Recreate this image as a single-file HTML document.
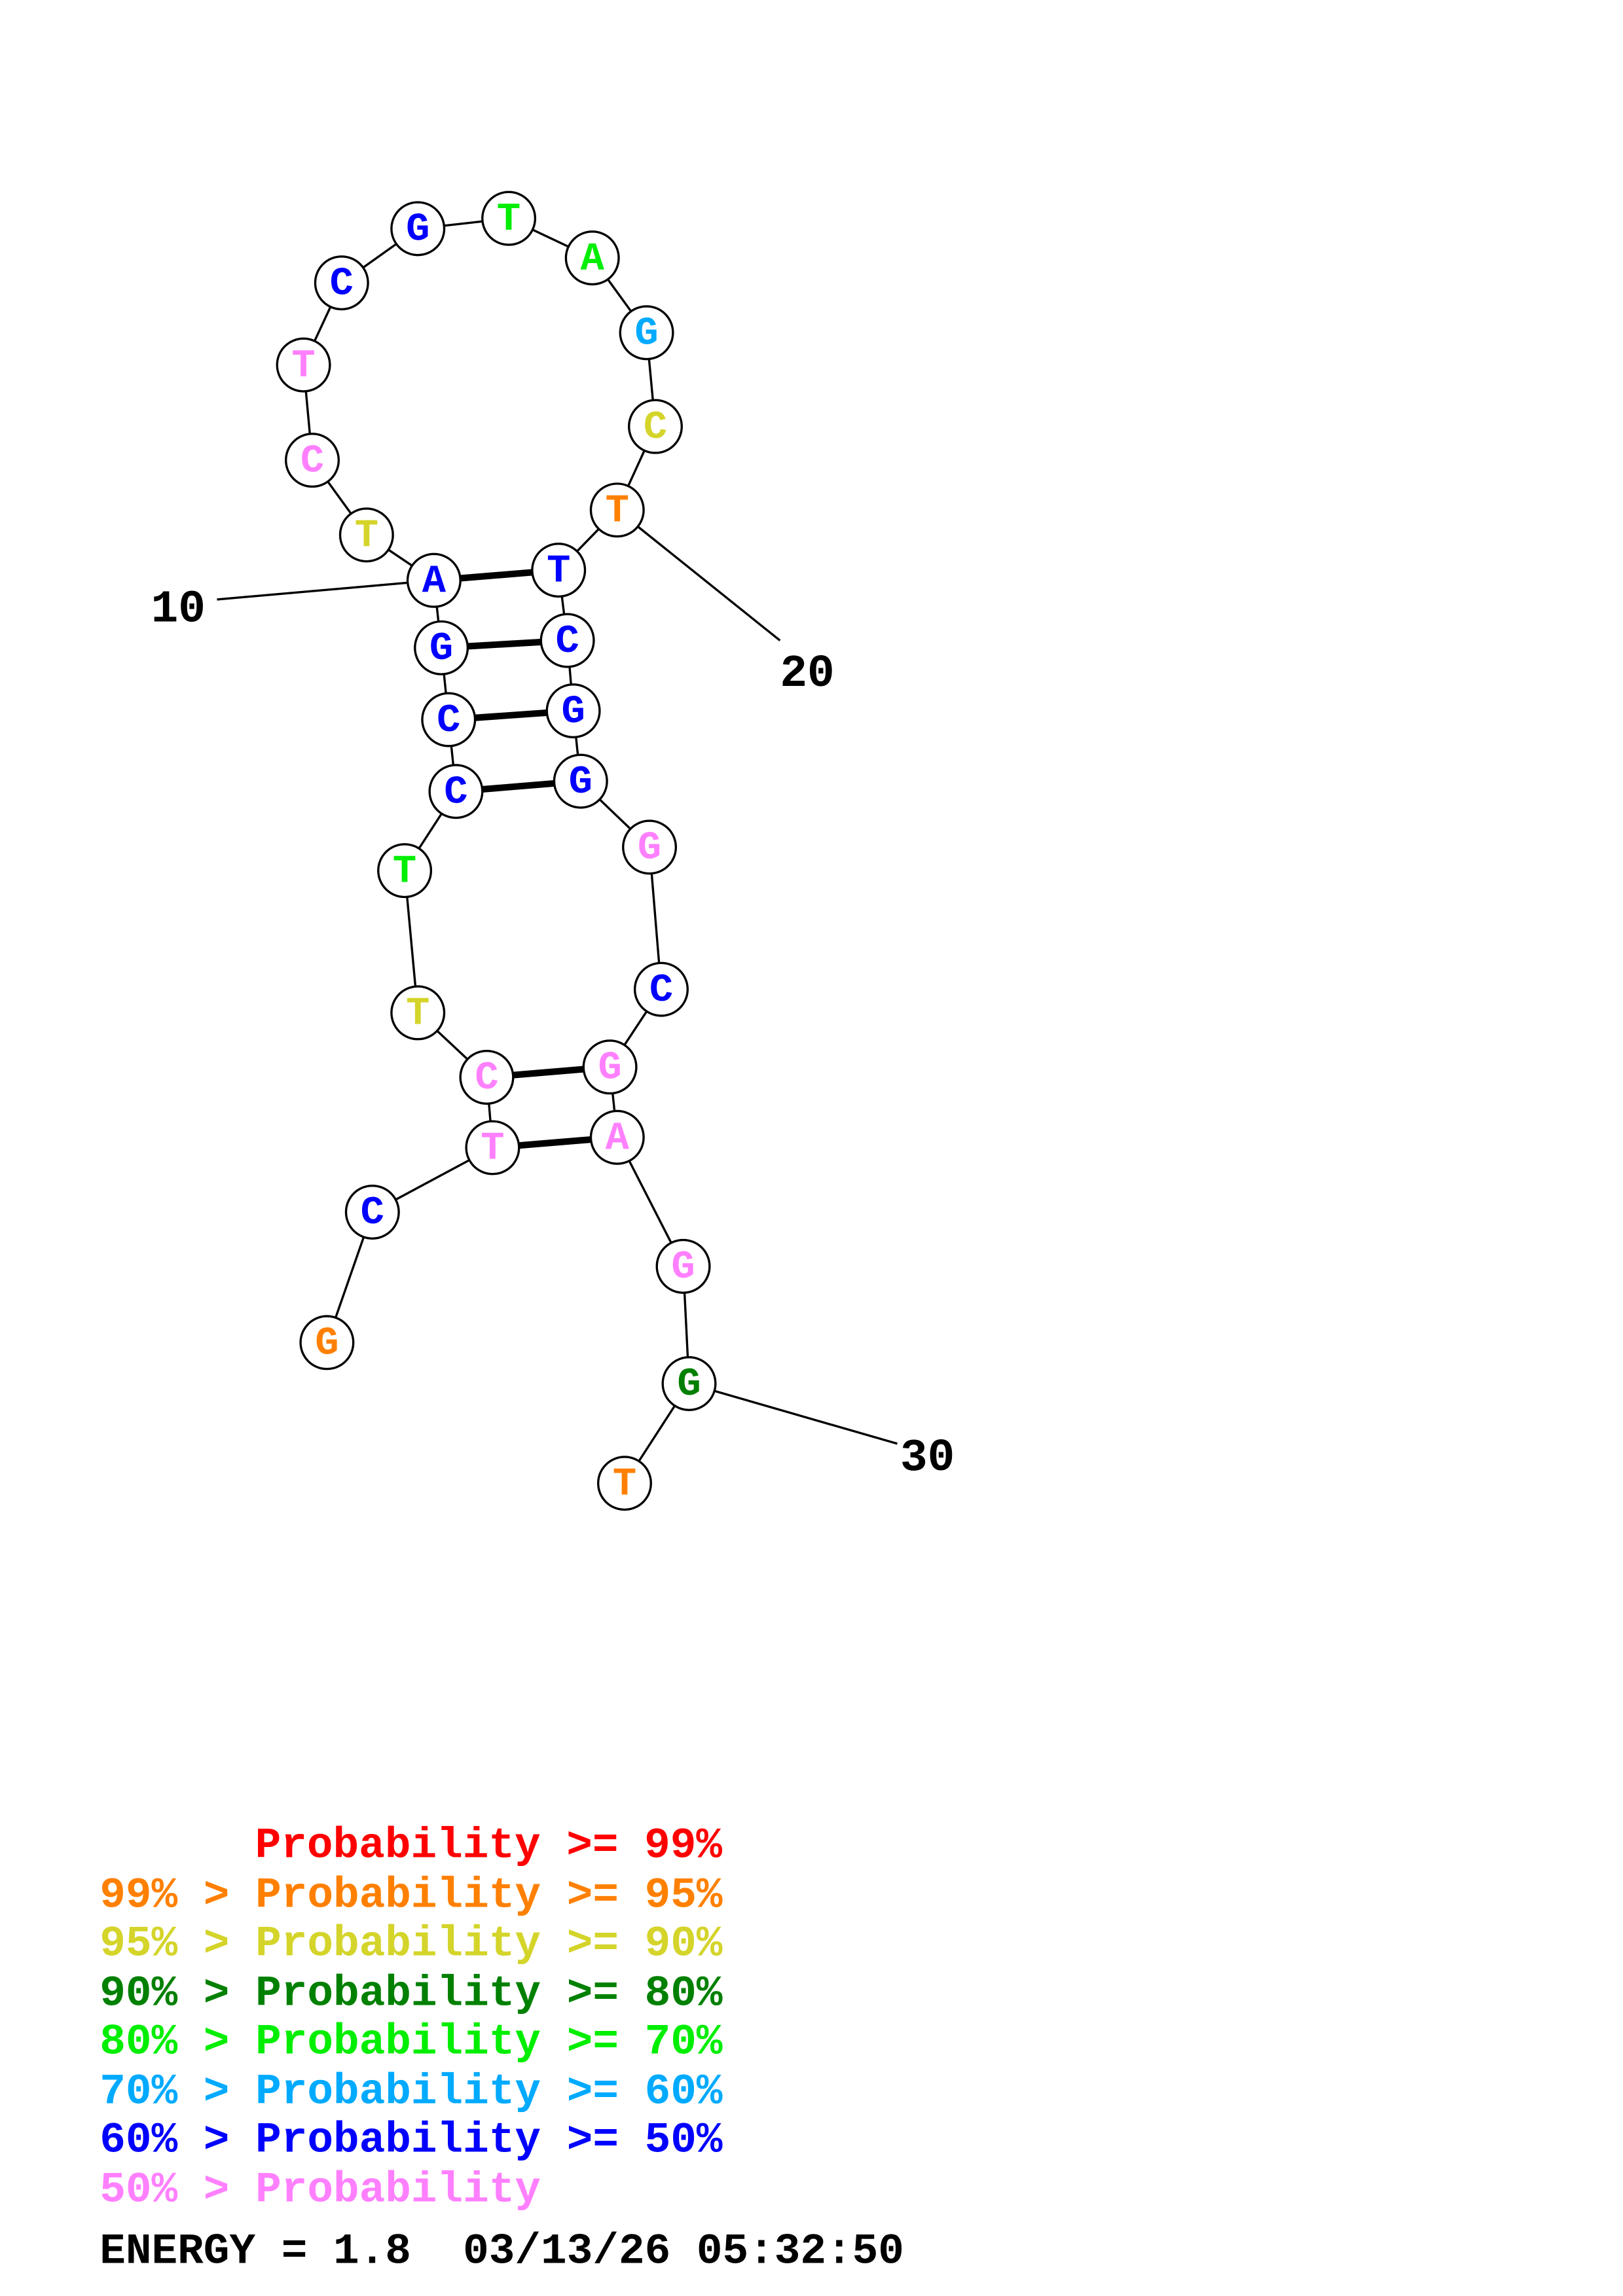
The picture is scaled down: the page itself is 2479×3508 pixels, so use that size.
<!DOCTYPE html>
<html><head><meta charset="utf-8"><style>html,body{margin:0;padding:0;background:#fff}svg{display:block}</style></head>
<body>
<svg width="2479" height="3508" viewBox="0 0 1107 1566.5" xmlns="http://www.w3.org/2000/svg" font-family="'Liberation Mono', monospace" font-weight="bold">
<g stroke="#000" stroke-width="1.5" fill="none">
<polyline points="223,916 254,827 336,783 332,735 285,691 276,594 311,540 306,491 301,442 296,396 250,365 213,314 207,249 233,193 285,156 347,149 404,176 441,227 447,291 421,348 381,389 387,437 391,485 396,533 443,578 451,675 416,728 421,776 466,864 470,944 426,1012"/>
<line x1="148" y1="409" x2="296" y2="396"/>
<line x1="532" y1="437" x2="421" y2="348"/>
<line x1="612" y1="985" x2="470" y2="944"/>
</g>
<g stroke="#000" stroke-width="4.5">
<line x1="296" y1="396" x2="381" y2="389"/>
<line x1="301" y1="442" x2="387" y2="437"/>
<line x1="306" y1="491" x2="391" y2="485"/>
<line x1="311" y1="540" x2="396" y2="533"/>
<line x1="332" y1="735" x2="416" y2="728"/>
<line x1="336" y1="783" x2="421" y2="776"/>
</g>
<g fill="#fff" stroke="#000" stroke-width="1.5">
<circle cx="223" cy="916" r="18"/><circle cx="254" cy="827" r="18"/><circle cx="336" cy="783" r="18"/><circle cx="332" cy="735" r="18"/><circle cx="285" cy="691" r="18"/><circle cx="276" cy="594" r="18"/><circle cx="311" cy="540" r="18"/><circle cx="306" cy="491" r="18"/><circle cx="301" cy="442" r="18"/><circle cx="296" cy="396" r="18"/><circle cx="250" cy="365" r="18"/><circle cx="213" cy="314" r="18"/><circle cx="207" cy="249" r="18"/><circle cx="233" cy="193" r="18"/><circle cx="285" cy="156" r="18"/><circle cx="347" cy="149" r="18"/><circle cx="404" cy="176" r="18"/><circle cx="441" cy="227" r="18"/><circle cx="447" cy="291" r="18"/><circle cx="421" cy="348" r="18"/><circle cx="381" cy="389" r="18"/><circle cx="387" cy="437" r="18"/><circle cx="391" cy="485" r="18"/><circle cx="396" cy="533" r="18"/><circle cx="443" cy="578" r="18"/><circle cx="451" cy="675" r="18"/><circle cx="416" cy="728" r="18"/><circle cx="421" cy="776" r="18"/><circle cx="466" cy="864" r="18"/><circle cx="470" cy="944" r="18"/><circle cx="426" cy="1012" r="18"/>
</g>
<g font-size="27" text-anchor="middle" dominant-baseline="central">
<text x="223" y="917" fill="#ff8000">G</text>
<text x="254" y="828" fill="#0000ff">C</text>
<text x="336" y="784" fill="#ff80ff">T</text>
<text x="332" y="736" fill="#ff80ff">C</text>
<text x="285" y="692" fill="#d4d42a">T</text>
<text x="276" y="595" fill="#00ee00">T</text>
<text x="311" y="541" fill="#0000ff">C</text>
<text x="306" y="492" fill="#0000ff">C</text>
<text x="301" y="443" fill="#0000ff">G</text>
<text x="296" y="397" fill="#0000ff">A</text>
<text x="250" y="366" fill="#d4d42a">T</text>
<text x="213" y="315" fill="#ff80ff">C</text>
<text x="207" y="250" fill="#ff80ff">T</text>
<text x="233" y="194" fill="#0000ff">C</text>
<text x="285" y="157" fill="#0000ff">G</text>
<text x="347" y="150" fill="#00ee00">T</text>
<text x="404" y="177" fill="#00ee00">A</text>
<text x="441" y="228" fill="#00aaff">G</text>
<text x="447" y="292" fill="#d4d42a">C</text>
<text x="421" y="349" fill="#ff8000">T</text>
<text x="381" y="390" fill="#0000ff">T</text>
<text x="387" y="438" fill="#0000ff">C</text>
<text x="391" y="486" fill="#0000ff">G</text>
<text x="396" y="534" fill="#0000ff">G</text>
<text x="443" y="579" fill="#ff80ff">G</text>
<text x="451" y="676" fill="#0000ff">C</text>
<text x="416" y="729" fill="#ff80ff">G</text>
<text x="421" y="777" fill="#ff80ff">A</text>
<text x="466" y="865" fill="#ff80ff">G</text>
<text x="470" y="945" fill="#008000">G</text>
<text x="426" y="1013" fill="#ff8000">T</text>
</g>
<g font-size="31" fill="#000">
<text x="103" y="424">10</text>
<text x="532" y="468">20</text>
<text x="614" y="1003">30</text>
</g>
<g font-size="29.5">
<text x="174" y="1267" fill="#ff0000">Probability &gt;= 99%</text>
<text x="68" y="1301" fill="#ff8000">99% &gt; Probability &gt;= 95%</text>
<text x="68" y="1334" fill="#d4d42a">95% &gt; Probability &gt;= 90%</text>
<text x="68" y="1368" fill="#008000">90% &gt; Probability &gt;= 80%</text>
<text x="68" y="1401" fill="#00ee00">80% &gt; Probability &gt;= 70%</text>
<text x="68" y="1435" fill="#00aaff">70% &gt; Probability &gt;= 60%</text>
<text x="68" y="1468" fill="#0000ff">60% &gt; Probability &gt;= 50%</text>
<text x="68" y="1502" fill="#ff80ff">50% &gt; Probability</text>
<text x="68" y="1544" fill="#000" xml:space="preserve">ENERGY = 1.8  03/13/26 05:32:50</text>
</g>
</svg>
</body></html>
